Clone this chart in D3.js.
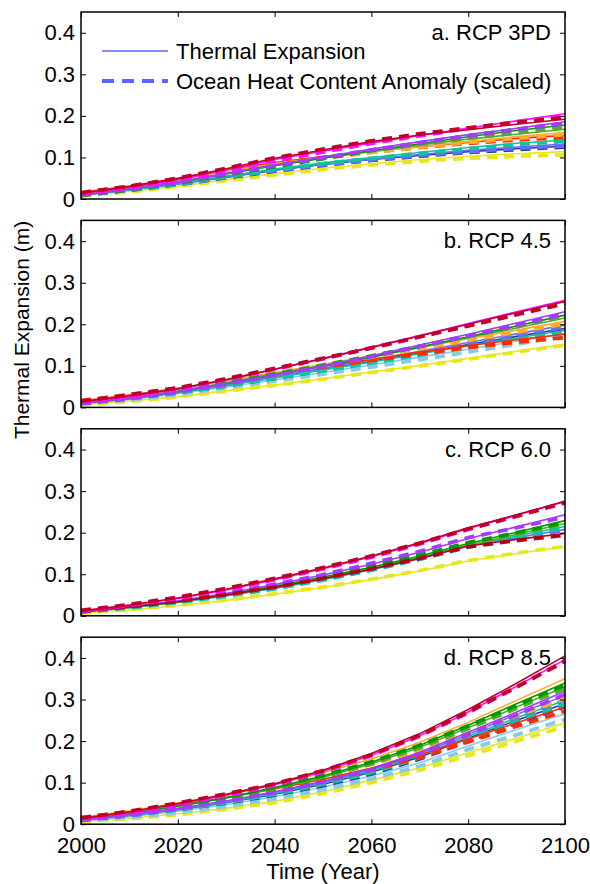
<!DOCTYPE html>
<html>
<head>
<meta charset="utf-8">
<script src="https://cdn.jsdelivr.net/npm/d3@7"></script>
<style>
  body { margin: 0; background: #fff; }
  svg text { font-family: "Liberation Sans", Arial, Helvetica, sans-serif; fill: #000; }
</style>
</head>
<body>
<div id="chart"></div>
<script>
// --- data -------------------------------------------------------------
const years = [2000, 2010, 2020, 2030, 2040, 2050, 2060, 2070, 2080, 2090, 2100];
const xTicks = [2000, 2020, 2040, 2060, 2080, 2100];
const yTicks = [0, 0.1, 0.2, 0.3, 0.4];
const panelLabels = ['a. RCP 3PD', 'b. RCP 4.5', 'c. RCP 6.0', 'd. RCP 8.5'];
const legendLabels = ['Thermal Expansion', 'Ocean Heat Content Anomaly (scaled)'];

// model order (drawing order, later = on top)
const models = ['yellow', 'lightblue', 'navy', 'slateblue', 'teal', 'red', 'orange',
  'yellowgreen', 'green', 'purple', 'darkred', 'magenta', 'crimson'];
const modelColors = ['#e8e61c', '#86cbe6', '#2b3a9e', '#6b6bff', '#10c4a0', '#ff2a08', '#ffac2a',
  '#4fae2a', '#009a00', '#a23cff', '#b4001c', '#ff10ff', '#c0002a'];

// RCP 3PD
const rcp3pdThermal = [
  [0.008, 0.018, 0.031, 0.046, 0.061, 0.074, 0.085, 0.095, 0.103, 0.109, 0.114],
  null,
  [0.010, 0.022, 0.036, 0.052, 0.069, 0.083, 0.095, 0.105, 0.114, 0.121, 0.127],
  [0.010, 0.022, 0.036, 0.053, 0.070, 0.084, 0.096, 0.107, 0.117, 0.125, 0.132],
  [0.010, 0.022, 0.037, 0.055, 0.072, 0.087, 0.100, 0.112, 0.124, 0.134, 0.142],
  [0.016, 0.031, 0.050, 0.070, 0.088, 0.102, 0.115, 0.126, 0.136, 0.146, 0.153],
  [0.014, 0.029, 0.047, 0.066, 0.085, 0.100, 0.114, 0.126, 0.138, 0.150, 0.160],
  [0.012, 0.025, 0.042, 0.062, 0.082, 0.099, 0.115, 0.130, 0.144, 0.156, 0.168],
  [0.010, 0.024, 0.040, 0.060, 0.080, 0.098, 0.116, 0.133, 0.150, 0.165, 0.178],
  [0.010, 0.024, 0.040, 0.061, 0.082, 0.101, 0.120, 0.138, 0.155, 0.170, 0.186],
  null,
  [0.012, 0.028, 0.046, 0.070, 0.095, 0.115, 0.135, 0.153, 0.171, 0.188, 0.205],
  [0.014, 0.030, 0.049, 0.073, 0.098, 0.118, 0.138, 0.154, 0.167, 0.180, 0.192]
];
const rcp3pdOhc = [
  [0.008, 0.017, 0.030, 0.044, 0.058, 0.071, 0.082, 0.091, 0.098, 0.103, 0.106],
  null,
  [0.010, 0.021, 0.035, 0.051, 0.067, 0.081, 0.093, 0.103, 0.112, 0.119, 0.125],
  [0.010, 0.021, 0.035, 0.052, 0.068, 0.082, 0.094, 0.105, 0.114, 0.122, 0.128],
  [0.010, 0.022, 0.036, 0.053, 0.070, 0.085, 0.098, 0.110, 0.121, 0.131, 0.139],
  [0.015, 0.030, 0.049, 0.068, 0.086, 0.100, 0.113, 0.124, 0.134, 0.142, 0.148],
  [0.014, 0.028, 0.046, 0.065, 0.083, 0.098, 0.112, 0.124, 0.136, 0.146, 0.155],
  [0.010, 0.024, 0.041, 0.061, 0.081, 0.098, 0.116, 0.131, 0.146, 0.159, 0.172],
  [0.008, 0.022, 0.038, 0.058, 0.078, 0.097, 0.117, 0.135, 0.152, 0.168, 0.182],
  [0.010, 0.023, 0.040, 0.060, 0.080, 0.099, 0.118, 0.135, 0.152, 0.167, 0.182],
  null,
  [0.012, 0.027, 0.046, 0.068, 0.092, 0.113, 0.134, 0.152, 0.170, 0.186, 0.201],
  [0.015, 0.031, 0.050, 0.074, 0.099, 0.120, 0.140, 0.157, 0.171, 0.184, 0.196]
];

// RCP 4.5
const rcp45Thermal = [
  [0.006, 0.015, 0.026, 0.040, 0.054, 0.069, 0.085, 0.101, 0.118, 0.135, 0.152],
  [0.008, 0.019, 0.033, 0.049, 0.066, 0.084, 0.102, 0.121, 0.140, 0.159, 0.178],
  [0.010, 0.021, 0.036, 0.053, 0.072, 0.091, 0.111, 0.131, 0.151, 0.171, 0.190],
  [0.010, 0.022, 0.037, 0.055, 0.074, 0.094, 0.114, 0.135, 0.156, 0.177, 0.198],
  [0.010, 0.021, 0.036, 0.053, 0.071, 0.090, 0.109, 0.129, 0.148, 0.167, 0.185],
  [0.015, 0.030, 0.046, 0.064, 0.082, 0.099, 0.116, 0.133, 0.149, 0.163, 0.176],
  [0.014, 0.028, 0.045, 0.064, 0.084, 0.104, 0.124, 0.144, 0.165, 0.186, 0.207],
  [0.012, 0.024, 0.040, 0.059, 0.080, 0.101, 0.122, 0.145, 0.168, 0.191, 0.215],
  [0.010, 0.022, 0.038, 0.057, 0.078, 0.099, 0.121, 0.145, 0.170, 0.196, 0.222],
  [0.010, 0.022, 0.038, 0.057, 0.078, 0.100, 0.124, 0.150, 0.176, 0.203, 0.230],
  null,
  [0.012, 0.026, 0.044, 0.066, 0.092, 0.118, 0.145, 0.173, 0.202, 0.230, 0.258],
  [0.014, 0.028, 0.045, 0.067, 0.092, 0.117, 0.144, 0.172, 0.200, 0.228, 0.255]
];
const rcp45Ohc = [
  [0.006, 0.014, 0.025, 0.039, 0.053, 0.068, 0.084, 0.100, 0.116, 0.133, 0.150],
  [0.008, 0.018, 0.031, 0.047, 0.063, 0.080, 0.097, 0.115, 0.133, 0.152, 0.172],
  [0.010, 0.021, 0.035, 0.052, 0.070, 0.089, 0.108, 0.128, 0.148, 0.168, 0.187],
  [0.010, 0.021, 0.036, 0.054, 0.073, 0.092, 0.112, 0.132, 0.153, 0.173, 0.194],
  [0.010, 0.021, 0.035, 0.052, 0.070, 0.088, 0.107, 0.126, 0.145, 0.163, 0.181],
  [0.016, 0.031, 0.047, 0.064, 0.081, 0.097, 0.113, 0.129, 0.144, 0.157, 0.168],
  [0.014, 0.027, 0.044, 0.063, 0.083, 0.102, 0.121, 0.141, 0.161, 0.181, 0.201],
  [0.012, 0.025, 0.041, 0.060, 0.081, 0.102, 0.124, 0.147, 0.170, 0.194, 0.219],
  [0.010, 0.022, 0.039, 0.058, 0.079, 0.100, 0.123, 0.147, 0.172, 0.198, 0.226],
  [0.010, 0.021, 0.037, 0.056, 0.077, 0.099, 0.122, 0.147, 0.172, 0.198, 0.224],
  null,
  [0.012, 0.027, 0.045, 0.067, 0.092, 0.117, 0.143, 0.170, 0.197, 0.225, 0.252],
  [0.015, 0.030, 0.047, 0.069, 0.094, 0.118, 0.143, 0.170, 0.196, 0.223, 0.250]
];

// RCP 6.0
const rcp60Thermal = [
  [0.006, 0.014, 0.024, 0.037, 0.052, 0.068, 0.087, 0.108, 0.132, 0.150, 0.166],
  null,
  null,
  [0.010, 0.020, 0.033, 0.049, 0.067, 0.088, 0.112, 0.139, 0.169, 0.188, 0.208],
  [0.009, 0.019, 0.032, 0.048, 0.066, 0.087, 0.111, 0.138, 0.168, 0.192, 0.215],
  null,
  null,
  [0.010, 0.020, 0.034, 0.050, 0.069, 0.090, 0.114, 0.140, 0.170, 0.196, 0.222],
  [0.010, 0.021, 0.035, 0.052, 0.071, 0.093, 0.117, 0.144, 0.174, 0.201, 0.229],
  [0.010, 0.021, 0.036, 0.054, 0.075, 0.098, 0.124, 0.153, 0.186, 0.214, 0.243],
  [0.010, 0.021, 0.034, 0.050, 0.068, 0.089, 0.112, 0.138, 0.168, 0.184, 0.198],
  [0.011, 0.025, 0.042, 0.062, 0.087, 0.113, 0.142, 0.174, 0.210, 0.242, 0.276],
  [0.012, 0.026, 0.043, 0.064, 0.089, 0.115, 0.144, 0.176, 0.212, 0.243, 0.275]
];
const rcp60Ohc = [
  [0.006, 0.015, 0.025, 0.038, 0.053, 0.069, 0.088, 0.109, 0.133, 0.151, 0.167],
  null,
  null,
  [0.010, 0.020, 0.033, 0.049, 0.066, 0.087, 0.110, 0.137, 0.166, 0.186, 0.206],
  [0.009, 0.019, 0.032, 0.047, 0.065, 0.086, 0.110, 0.136, 0.165, 0.189, 0.212],
  null,
  null,
  [0.010, 0.021, 0.035, 0.051, 0.070, 0.092, 0.116, 0.142, 0.172, 0.197, 0.221],
  [0.010, 0.022, 0.036, 0.053, 0.073, 0.095, 0.119, 0.146, 0.176, 0.200, 0.225],
  [0.010, 0.022, 0.037, 0.055, 0.076, 0.099, 0.126, 0.155, 0.188, 0.212, 0.238],
  [0.011, 0.022, 0.035, 0.051, 0.069, 0.090, 0.113, 0.138, 0.166, 0.181, 0.194],
  [0.011, 0.025, 0.042, 0.062, 0.087, 0.113, 0.141, 0.173, 0.208, 0.240, 0.273],
  [0.013, 0.027, 0.045, 0.066, 0.090, 0.116, 0.144, 0.175, 0.209, 0.240, 0.272]
];

// RCP 8.5
const rcp85Thermal = [
  [0.006, 0.014, 0.025, 0.038, 0.055, 0.078, 0.106, 0.136, 0.172, 0.207, 0.244],
  [0.008, 0.018, 0.031, 0.047, 0.066, 0.089, 0.116, 0.148, 0.188, 0.228, 0.266],
  [0.010, 0.021, 0.035, 0.052, 0.072, 0.096, 0.125, 0.162, 0.207, 0.250, 0.290],
  [0.010, 0.022, 0.037, 0.055, 0.076, 0.101, 0.131, 0.170, 0.216, 0.264, 0.310],
  [0.010, 0.021, 0.036, 0.053, 0.074, 0.099, 0.128, 0.166, 0.211, 0.256, 0.298],
  [0.016, 0.030, 0.046, 0.064, 0.085, 0.108, 0.135, 0.167, 0.205, 0.244, 0.282],
  [0.016, 0.032, 0.051, 0.072, 0.096, 0.124, 0.157, 0.197, 0.245, 0.298, 0.350],
  [0.013, 0.026, 0.043, 0.063, 0.086, 0.113, 0.145, 0.185, 0.232, 0.282, 0.330],
  [0.012, 0.026, 0.043, 0.064, 0.088, 0.116, 0.149, 0.190, 0.238, 0.290, 0.340],
  [0.010, 0.022, 0.038, 0.056, 0.078, 0.103, 0.134, 0.173, 0.221, 0.270, 0.320],
  null,
  [0.012, 0.028, 0.048, 0.070, 0.095, 0.127, 0.166, 0.213, 0.270, 0.332, 0.396],
  [0.014, 0.030, 0.050, 0.072, 0.097, 0.130, 0.170, 0.218, 0.276, 0.339, 0.405]
];
const rcp85Ohc = [
  [0.006, 0.013, 0.023, 0.036, 0.052, 0.074, 0.100, 0.130, 0.165, 0.200, 0.235],
  [0.008, 0.016, 0.028, 0.043, 0.061, 0.083, 0.109, 0.140, 0.180, 0.215, 0.252],
  [0.010, 0.021, 0.035, 0.051, 0.070, 0.093, 0.121, 0.157, 0.200, 0.243, 0.283],
  [0.010, 0.021, 0.036, 0.054, 0.074, 0.098, 0.127, 0.164, 0.209, 0.254, 0.298],
  [0.010, 0.021, 0.035, 0.052, 0.072, 0.096, 0.124, 0.160, 0.204, 0.247, 0.288],
  [0.016, 0.030, 0.045, 0.062, 0.082, 0.104, 0.130, 0.161, 0.198, 0.236, 0.272],
  [0.015, 0.030, 0.048, 0.068, 0.090, 0.115, 0.144, 0.178, 0.219, 0.261, 0.302],
  [0.013, 0.026, 0.043, 0.063, 0.086, 0.113, 0.145, 0.184, 0.230, 0.279, 0.327],
  [0.012, 0.026, 0.044, 0.065, 0.089, 0.117, 0.150, 0.190, 0.237, 0.286, 0.335],
  [0.010, 0.021, 0.037, 0.055, 0.076, 0.101, 0.131, 0.169, 0.215, 0.263, 0.312],
  null,
  [0.012, 0.027, 0.047, 0.069, 0.094, 0.126, 0.165, 0.212, 0.268, 0.330, 0.394],
  [0.015, 0.031, 0.051, 0.073, 0.097, 0.129, 0.167, 0.214, 0.270, 0.330, 0.392]
];

const panels = [
  { label: panelLabels[0], thermal: rcp3pdThermal, ohc: rcp3pdOhc },
  { label: panelLabels[1], thermal: rcp45Thermal, ohc: rcp45Ohc },
  { label: panelLabels[2], thermal: rcp60Thermal, ohc: rcp60Ohc },
  { label: panelLabels[3], thermal: rcp85Thermal, ohc: rcp85Ohc }
];

// --- layout -----------------------------------------------------------
const width = 590, height = 884;
const margin = { left: 81, right: 25 };
const panelTop0 = 12, panelStep = 208.4, panelHeight = 187;
const fontSize = 22;

const svg = d3.select('#chart').append('svg')
  .attr('width', width)
  .attr('height', height);

const xScale = d3.scaleLinear()
  .domain([2000, 2100])
  .range([margin.left, width - margin.right]);

const yFormat = d => d === 0 ? '0' : d3.format('.1f')(d);

panels.forEach((p, i) => {
  const top = panelTop0 + i * panelStep;
  const yScale = d3.scaleLinear().domain([0, 0.45]).range([top + panelHeight, top]);
  const g = svg.append('g').attr('class', 'panel');

  const line = d3.line()
    .x((d, k) => xScale(years[k]))
    .y(d => yScale(d));

  models.forEach((m, j) => {
    if (p.thermal[j]) {
      g.append('path')
        .attr('d', line(p.thermal[j]))
        .attr('fill', 'none')
        .attr('stroke', modelColors[j])
        .attr('stroke-width', 1.6);
    }
    if (p.ohc[j]) {
      g.append('path')
        .attr('d', line(p.ohc[j]))
        .attr('fill', 'none')
        .attr('stroke', modelColors[j])
        .attr('stroke-width', 3.8)
        .attr('stroke-dasharray', '10,7');
    }
  });

  // axes, ticks pointing inward
  g.append('g')
    .attr('transform', `translate(${margin.left},0)`)
    .call(d3.axisLeft(yScale).tickValues(yTicks).tickFormat(yFormat).tickSize(-5).tickPadding(6).tickSizeOuter(0))
    .call(a => a.selectAll('text').style('font-size', fontSize + 'px'));
  g.append('g')
    .attr('transform', `translate(${width - margin.right},0)`)
    .call(d3.axisRight(yScale).tickValues(yTicks).tickFormat('').tickSize(-5).tickSizeOuter(0));
  g.append('g')
    .attr('transform', `translate(0,${top})`)
    .call(d3.axisTop(xScale).tickValues(xTicks).tickFormat('').tickSize(-5).tickSizeOuter(0));
  g.append('g')
    .attr('transform', `translate(0,${top + panelHeight})`)
    .call(d3.axisBottom(xScale).tickValues(xTicks)
      .tickFormat(i === panels.length - 1 ? d3.format('d') : '')
      .tickSize(-5).tickPadding(13).tickSizeOuter(0))
    .call(a => a.selectAll('text').style('font-size', fontSize + 'px'));
  svg.selectAll('.domain').remove();

  g.append('rect')
    .attr('x', margin.left)
    .attr('y', top)
    .attr('width', width - margin.right - margin.left)
    .attr('height', panelHeight)
    .attr('fill', 'none')
    .attr('stroke', '#000')
    .attr('stroke-width', 1.5);

  g.append('text')
    .attr('x', width - margin.right - 14)
    .attr('y', top + 28)
    .attr('text-anchor', 'end')
    .style('font-size', fontSize + 'px')
    .text(p.label);
});

// legend in the first panel
const legend = svg.append('g').attr('class', 'legend');
const legendColor = '#5a66ff';
[0, 1].forEach(k => {
  const ly = 51 + k * 30;
  legend.append('line')
    .attr('x1', 102).attr('x2', 168)
    .attr('y1', ly).attr('y2', ly)
    .attr('stroke', legendColor)
    .attr('stroke-width', k === 0 ? 1.6 : 3.8)
    .attr('stroke-dasharray', k === 0 ? null : '12,8');
  legend.append('text')
    .attr('x', 176)
    .attr('y', ly + 8)
    .style('font-size', fontSize + 'px')
    .text(legendLabels[k]);
});

// axis titles
svg.append('text')
  .attr('transform', 'translate(29,330) rotate(-90)')
  .attr('text-anchor', 'middle')
  .style('font-size', '21px')
  .text('Thermal Expansion (m)');

svg.append('text')
  .attr('x', (margin.left + width - margin.right) / 2)
  .attr('y', 879)
  .attr('text-anchor', 'middle')
  .style('font-size', fontSize + 'px')
  .text('Time (Year)');
</script>
</body>
</html>
